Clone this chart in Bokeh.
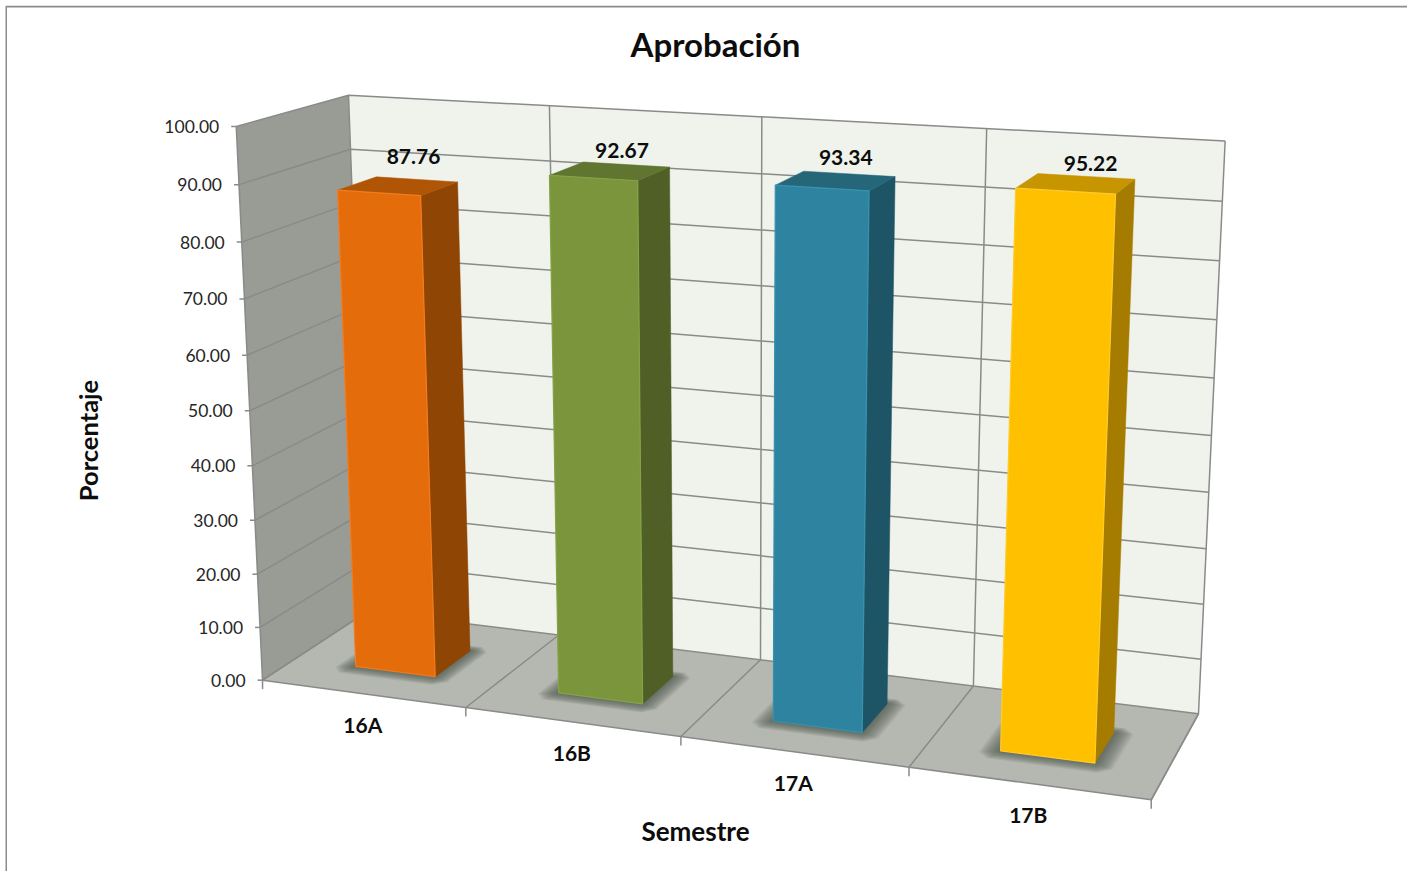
import numpy as np
from bokeh.plotting import figure
from bokeh.models import Range1d
from bokeh.core.properties import value
from bokeh.embed import file_html
from bokeh.resources import INLINE

categories = ["16A", "16B", "17A", "17B"]
values = [87.76, 92.67, 93.34, 95.22]
value_labels = ["87.76", "92.67", "93.34", "95.22"]
y_ticks = [0, 10, 20, 30, 40, 50, 60, 70, 80, 90, 100]
y_tick_labels = ["0.00", "10.00", "20.00", "30.00", "40.00", "50.00", "60.00", "70.00", "80.00", "90.00", "100.00"]
front_colors = ["#E56C0A", "#7A953B", "#2E84A0", "#FFC000"]
side_colors = ["#8F4504", "#4F5F26", "#1E5566", "#A67C00"]
top_colors = ["#B05505", "#5F7530", "#256779", "#C79500"]
edge_colors = ["#F27C1E", "#86A246", "#3892AF", "#FFCB2A"]
label_dx = [-2, -3, -2, 6]
label_dy = [-23, -14, -16, -13]

# camera calibration: (slot, depth, percent) -> picture position
calib = [
    (0, 0, 0, 262, 679), (0, 0, 100, 236, 126), (0, 0, 50, 249, 410),
    (1, 0, 0, 466, 707), (2, 0, 0, 680, 737), (3, 0, 0, 908, 768), (4, 0, 0, 1151, 798),
    (0, 1, 100, 348, 95), (1, 1, 100, 549, 105), (2, 1, 100, 761, 116),
    (3, 1, 100, 986, 128), (4, 1, 100, 1225, 141),
    (2, 1, 0, 760, 660), (3, 1, 0, 973, 685), (4, 1, 0, 1198, 713),
]
A, b = [], []
for X, Z, Y, u, v in calib:
    A.append([X, Z, Y, 1, 0, 0, 0, 0, -u*X, -u*Z, -u*Y]); b.append(u)
    A.append([0, 0, 0, 0, X, Z, Y, 1, -v*X, -v*Z, -v*Y]); b.append(v)
P = np.linalg.lstsq(np.array(A, float), np.array(b, float), rcond=None)[0]

def proj(X, Z, Y):
    w = P[8]*X + P[9]*Z + P[10]*Y + 1
    return (P[0]*X + P[1]*Z + P[2]*Y + P[3]) / w, (P[4]*X + P[5]*Z + P[6]*Y + P[7]) / w

def poly(points):
    q = [proj(*t) for t in points]
    return [a for a, _ in q], [c for _, c in q]

X_MAX = 4
GAP_L, GAP_R = 0.307, 0.295
Z0, Z1 = 0.30, 0.66
GRID = "#8A8A8A"
BOLD = value("Lato")

p = figure(width=1402, height=866, output_backend="svg", toolbar_location=None,
           x_range=Range1d(5, 1407), y_range=Range1d(871, 5), min_border=0,
           outline_line_color=None, background_fill_color="white", border_fill_color="white",
           margin=(5, 0, 0, 5))
p.axis.visible = False
p.grid.visible = False

# chart frame
p.line([5.5, 5.5, 1407], [871, 6, 6], line_color="#8C8C8C", line_width=2)

# walls and floor
x, y = poly([(0, 0, 0), (0, 1, 0), (0, 1, 100), (0, 0, 100)])
p.patch(x, y, fill_color="#999B95", line_color=None)
x, y = poly([(0, 1, 0), (X_MAX, 1, 0), (X_MAX, 1, 100), (0, 1, 100)])
p.patch(x, y, fill_color="#EFF3EC", line_color=None)
x, y = poly([(0, 0, 0), (X_MAX, 0, 0), (X_MAX, 1, 0), (0, 1, 0)])
p.patch(x, y, fill_color="#B5B8B1", line_color=None)

# gridlines
for t in y_ticks:
    x, y = poly([(0, 0, t), (0, 1, t), (X_MAX, 1, t)])
    p.line(x, y, line_color=GRID, line_width=1.5)
    u, v = proj(0, 0, t)
    p.line([u - 5, u], [v, v], line_color=GRID, line_width=1.5)
for i in range(X_MAX + 1):
    x, y = poly([(i, 0, 0), (i, 1, 0), (i, 1, 100)])
    p.line(x, y, line_color=GRID, line_width=1.5)
    u, v = proj(i, 0, 0)
    p.line([u, u], [v, v + 9], line_color=GRID, line_width=1.5)
x, y = poly([(0, 0, 0), (0, 0, 100)])
p.line(x, y, line_color=GRID, line_width=1.5)
x, y = poly([(0, 0, 0), (X_MAX, 0, 0), (X_MAX, 1, 0)])
p.line(x, y, line_color=GRID, line_width=1.5)

# bars
for i, val in enumerate(values):
    x0, x1 = i + GAP_L, i + 1 - GAP_R
    for k in range(12, 0, -1):
        e = 0.0055 * k
        ex, ef, eb = e * 1.25, e * 1.5, e * 1.0
        cx, cz = ex * 0.6, ef * 0.6
        x, y = poly([(x0 - ex + cx, Z0 - ef, 0), (x1 + ex - cx, Z0 - ef, 0),
                     (x1 + ex, Z0 - ef + cz, 0), (x1 + ex, Z1 + eb - cz, 0),
                     (x1 + ex - cx, Z1 + eb, 0), (x0 - ex + cx, Z1 + eb, 0),
                     (x0 - ex, Z1 + eb - cz, 0), (x0 - ex, Z0 - ef + cz, 0)])
        p.patch(x, y, fill_color="#4A4C48", fill_alpha=0.085, line_color=None)
    x, y = poly([(x1, Z0, 0), (x1, Z1, 0), (x1, Z1, val), (x1, Z0, val)])
    p.patch(x, y, fill_color=side_colors[i], line_color=side_colors[i], line_width=0.5)
    x, y = poly([(x0, Z0, val), (x1, Z0, val), (x1, Z1, val), (x0, Z1, val)])
    p.patch(x, y, fill_color=top_colors[i], line_color=top_colors[i], line_width=0.5)
    x, y = poly([(x0, Z0, 0), (x1, Z0, 0), (x1, Z0, val), (x0, Z0, val)])
    p.patch(x, y, fill_color=front_colors[i], line_color=edge_colors[i], line_width=1.2)

    u, v = proj(i + 0.5, Z1, val)
    p.text([u + label_dx[i]], [v + label_dy[i]], text=[value_labels[i]], text_font=BOLD,
           text_font_style="bold", text_font_size="21px", text_color="#0D0D0D",
           text_align="center", text_baseline="middle")

# axis labels
for t, lab in zip(y_ticks, y_tick_labels):
    u, v = proj(0, 0, t)
    p.text([u - 17], [v], text=[lab], text_font=BOLD, text_font_size="17.5px",
           text_color="#262626", text_align="right", text_baseline="middle")
for i, cat in enumerate(categories):
    u, v = proj(i + 0.5, 0, 0)
    p.text([u], [v], text=[cat], text_font=BOLD, text_font_style="bold",
           text_font_size="21px", text_color="#0D0D0D", text_align="center",
           text_baseline="middle", y_offset=31)

p.text([715], [43], text=["Aprobación"], text_font=BOLD, text_font_style="bold",
       text_font_size="33px", text_color="#0D0D0D", text_align="center", text_baseline="middle")
p.text([695], [830], text=["Semestre"], text_font=BOLD, text_font_style="bold",
       text_font_size="26px", text_color="#0D0D0D", text_align="center", text_baseline="middle")
p.text([87], [440], text=["Porcentaje"], text_font=BOLD, text_font_style="bold",
       text_font_size="25.5px", text_color="#0D0D0D", text_align="center", text_baseline="middle",
       angle=np.pi / 2)

open("out.html", "w").write(file_html(p, INLINE))
